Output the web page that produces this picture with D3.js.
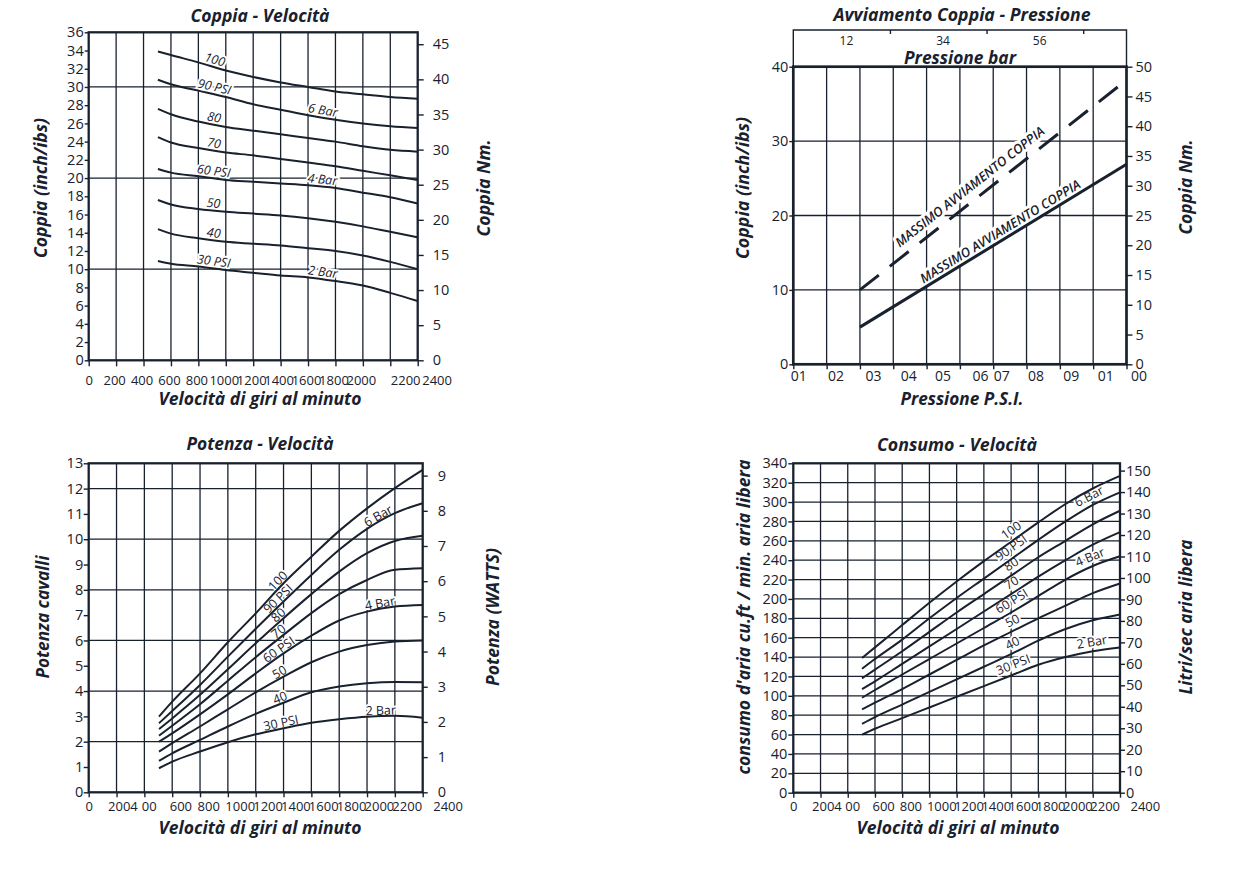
<!DOCTYPE html>
<html lang="it">
<head>
<meta charset="UTF-8">
<title>Coppia, Potenza, Consumo - Velocità</title>
<style>
  *{margin:0;padding:0;}
  body{background:#fff;}
  svg{font-family:'Open Sans',sans-serif;}
</style>
</head>
<body>
<div id="container"></div>
<script src="https://cdn.jsdelivr.net/npm/d3@7"></script>
<script>
var ink = '#19212e'

var giri = [505, 600, 800, 1000, 1200, 1400, 1600, 1800, 2000, 2200, 2400]
var rpmTicks = [0, 200, 400, 600, 800, 1000, 1200, 1400, 1600, 1800, 2000, 2200, 2400]
var rpmText = ['0', '200', '400', '600', '800', '1000', '1200', '1400', '1600', '1800', '2000', '2200', '2400']
var rpmTextLow = ['0', '2004', '00', '600', '800', '1000', '1200', '1400', '1600', '1800', '2000', '2200', '2400']
var psiNames = ['100', '90 PSI', '80', '70', '60 PSI', '50', '40', '30 PSI']
var barNames = ['6 Bar', '4 Bar', '2 Bar']
var barOnSeries = [1, 4, 7]

// Coppia - Velocità (inch/lbs)
var coppia100 = [33.9, 33.5, 32.7, 31.8, 31.1, 30.5, 30.0, 29.5, 29.2, 28.9, 28.7]
var coppia90 = [30.8, 30.3, 29.6, 28.9, 28.1, 27.5, 26.9, 26.4, 26.0, 25.7, 25.5]
var coppia80 = [27.6, 27.0, 26.2, 25.6, 25.2, 24.8, 24.4, 24.0, 23.5, 23.1, 22.9]
var coppia70 = [24.5, 23.9, 23.3, 22.8, 22.5, 22.1, 21.7, 21.3, 20.8, 20.3, 19.8]
var coppia60 = [21.0, 20.6, 20.2, 19.8, 19.6, 19.4, 19.2, 18.9, 18.4, 17.9, 17.2]
var coppia50 = [17.6, 17.1, 16.6, 16.3, 16.1, 15.9, 15.6, 15.2, 14.7, 14.1, 13.5]
var coppia40 = [14.4, 13.9, 13.4, 13.0, 12.8, 12.6, 12.3, 12.0, 11.5, 10.8, 10.0]
var coppia30 = [10.9, 10.6, 10.3, 9.9, 9.6, 9.3, 9.1, 8.7, 8.2, 7.4, 6.5]

// Potenza - Velocità (cavalli)
var potenza100 = [2.99, 3.58, 4.70, 5.93, 7.07, 8.26, 9.31, 10.33, 11.22, 12.02, 12.74]
var potenza90 = [2.73, 3.21, 4.24, 5.36, 6.46, 7.54, 8.59, 9.58, 10.41, 11.03, 11.42]
var potenza80 = [2.50, 2.92, 3.85, 4.86, 5.89, 6.88, 7.83, 8.72, 9.45, 9.93, 10.14]
var potenza70 = [2.24, 2.63, 3.48, 4.41, 5.34, 6.22, 7.08, 7.83, 8.39, 8.79, 8.85]
var potenza60 = [2.00, 2.33, 3.08, 3.87, 4.70, 5.49, 6.19, 6.79, 7.14, 7.34, 7.40]
var potenza50 = [1.61, 1.94, 2.60, 3.28, 3.95, 4.57, 5.14, 5.56, 5.82, 5.96, 6.00]
var potenza40 = [1.24, 1.54, 2.07, 2.60, 3.10, 3.54, 3.95, 4.18, 4.31, 4.36, 4.35]
var potenza30 = [0.95, 1.21, 1.61, 1.98, 2.29, 2.53, 2.75, 2.89, 2.99, 3.02, 2.95]

// Consumo - Velocità (cu.ft / min)
var consumo100 = [139, 150, 173, 196, 218, 239, 259, 279, 298, 314, 327]
var consumo90 = [128, 138, 158, 180, 201, 221, 241, 261, 280, 297, 310]
var consumo80 = [118, 127, 146, 166, 186, 205, 224, 243, 260, 277, 291]
var consumo70 = [107, 115, 133, 151, 169, 187, 205, 223, 240, 256, 269]
var consumo60 = [98, 106, 122, 138, 154, 170, 186, 203, 220, 234, 244]
var consumo50 = [86, 93, 107, 122, 137, 152, 166, 180, 193, 206, 216]
var consumo40 = [71, 78, 91, 104, 117, 130, 143, 157, 169, 178, 184]
var consumo30 = [60, 66, 77, 88, 99, 110, 121, 132, 140, 146, 150]

// Avviamento Coppia - Pressione
var psi = [20, 100]
var avviamento = [5, 26.9]
var avviamentoMax = [10, 38.2]
var psiTicks = [0, 10, 20, 30, 40, 50, 60, 70, 80, 90, 100]
var psiText = ['01', '02', '03', '04', '05', '06', '07', '08', '09', '01', '00']
var barTicks = [2, 4, 6]
var barText = ['12', '34', '56']
var barTextAt = [1.1, 3.1, 5.1]
var psiPerBar = 14.5

var svg = d3.select('#container').append('svg').attr('width', 1247).attr('height', 881)

// titoli in corsivo grassetto, larghezza forzata come nel disegno originale
function title(txt, x, y, size, len, rot) {
	svg.append('text').attr('transform', `translate(${x},${y}) rotate(${rot || 0})`)
		.attr('text-anchor', 'middle').attr('dominant-baseline', 'central')
		.attr('font-size', size).attr('font-weight', 700).attr('font-style', 'italic')
		.attr('textLength', len).attr('lengthAdjust', 'spacingAndGlyphs')
		.attr('fill', ink).text(txt)
}

function styleAxis(a, size) {
	a.attr('color', ink).attr('font-family', null).attr('font-size', size)
	a.select('.domain').remove()
	a.selectAll('.tick line').attr('stroke-width', 1.4)
	a.selectAll('.tick text').attr('fill', ink)
}

function halo(t) {
	t.attr('stroke', '#fff').attr('stroke-width', 4).attr('stroke-linejoin', 'round')
		.attr('paint-order', 'stroke').attr('fill', ink)
}

function rpmChart(o) {
	var x = d3.scaleLinear().domain([0, 2400]).range([o.left, o.right])
	var y = d3.scaleLinear().domain([0, o.yMax]).range([o.bottom, o.top])
	var y2 = d3.scaleLinear().domain([0, o.y2Max]).range([o.bottom, o.top])
	var g = svg.append('g')

	g.selectAll('.vgrid').data(rpmTicks.slice(1, -1)).enter().append('line').attr('class', 'vgrid')
		.attr('x1', d => x(d)).attr('x2', d => x(d)).attr('y1', o.top).attr('y2', o.bottom)
		.attr('stroke', ink).attr('stroke-width', 1.3)
	g.selectAll('.hgrid').data(o.grid).enter().append('line').attr('class', 'hgrid')
		.attr('x1', o.left).attr('x2', o.right).attr('y1', d => y(d)).attr('y2', d => y(d))
		.attr('stroke', ink).attr('stroke-width', 1.3)

	// etichette sulle curve
	function onCurve(values, r, txt, off) {
		var at = d3.scaleLinear().domain(giri).range(values)
		var ang = Math.atan2(y(at(r + 40)) - y(at(r - 40)), x(r + 40) - x(r - 40)) * 180 / Math.PI
		g.append('text').attr('transform', `translate(${x(r)},${y(at(r))}) rotate(${ang})`)
			.attr('y', -off).attr('text-anchor', 'middle').attr('font-size', 12.5)
			.attr('font-style', o.italic ? 'italic' : 'normal').text(txt).call(halo)
	}
	o.series.forEach((s, i) => onCurve(s, o.psiAt, psiNames[i], o.off))
	barOnSeries.forEach((s, i) => onCurve(o.series[s], o.barAt, barNames[i], o.off))

	var line = d3.line().x((d, i) => x(giri[i])).y(d => y(d)).curve(d3.curveMonotoneX)
	g.selectAll('.curve').data(o.series).enter().append('path').attr('class', 'curve')
		.attr('d', line).attr('fill', 'none').attr('stroke', ink).attr('stroke-width', 2)

	g.append('rect').attr('x', o.left).attr('y', o.top)
		.attr('width', o.right - o.left).attr('height', o.bottom - o.top)
		.attr('fill', 'none').attr('stroke', ink).attr('stroke-width', 2.3)

	var xa = g.append('g').attr('transform', `translate(0,${o.bottom})`)
		.call(d3.axisBottom(x).tickValues(rpmTicks).tickFormat((d, i) => o.xText[i])
			.tickSize(o.xTick).tickPadding(o.xPad))
	styleAxis(xa, 13)
	xa.selectAll('.tick text').attr('text-anchor', (d, i) => o.xLay(i)[0]).attr('dx', (d, i) => o.xLay(i)[1])

	var ya = g.append('g').attr('transform', `translate(${o.left},0)`)
		.call(d3.axisLeft(y).tickValues(o.yTicks).tickSize(o.yTick).tickPadding(o.yPad))
	styleAxis(ya, 14.5)
	var ra = g.append('g').attr('transform', `translate(${o.right},0)`)
		.call(d3.axisRight(y2).tickValues(o.y2Ticks).tickSize(o.y2Tick).tickPadding(o.y2Pad))
	styleAxis(ra, 14.5)
}

function layTop(i) {
	if (i == 0) return ['middle', 0]
	if (i >= 11) return ['start', i == 11 ? 0 : 4]
	return ['middle', -2]
}
function layLow(i) {
	if (i == 0) return ['middle', 0]
	if (i == 1) return ['start', -9]
	if (i == 12) return ['start', 10]
	return ['start', -3]
}

// Coppia - Velocità
rpmChart({
	left: 88.7, right: 417.7, top: 32.3, bottom: 360.3,
	yMax: 36, y2Max: 46.7, grid: [10, 20, 30],
	yTicks: [0, 2, 4, 6, 8, 10, 12, 14, 16, 18, 20, 22, 24, 26, 28, 30, 32, 34, 36],
	y2Ticks: [0, 5, 10, 15, 20, 25, 30, 35, 40, 45],
	series: [coppia100, coppia90, coppia80, coppia70, coppia60, coppia50, coppia40, coppia30],
	psiAt: 905, barAt: 1700, off: 3, italic: true,
	xText: rpmText, xLay: layTop, xTick: 6, xPad: 9,
	yTick: 4, yPad: 1, y2Tick: 6, y2Pad: 9
})
title('Coppia - Velocità', 260, 15, 17, 139)
title('Coppia (inch/ibs)', 40, 188, 17.5, 140, -90)
title('Coppia Nm.', 483, 188, 17.5, 97, -90)
title('Velocità di giri al minuto', 260, 398, 17.5, 203)

// Potenza - Velocità
rpmChart({
	left: 88.7, right: 422.7, top: 463.3, bottom: 792.3,
	yMax: 13, y2Max: 9.35, grid: [2, 4, 6, 8, 10, 12],
	yTicks: [0, 1, 2, 3, 4, 5, 6, 7, 8, 9, 10, 11, 12, 13],
	y2Ticks: [0, 1, 2, 3, 4, 5, 6, 7, 8, 9],
	series: [potenza100, potenza90, potenza80, potenza70, potenza60, potenza50, potenza40, potenza30],
	psiAt: 1390, barAt: 2100, off: 1.5, italic: false,
	xText: rpmTextLow, xLay: layLow, xTick: 5, xPad: 4.4,
	yTick: 5, yPad: 0.5, y2Tick: 5, y2Pad: 10
})
title('Potenza - Velocità', 260, 443, 17, 147)
title('Potenza cavalli', 42, 617, 17.5, 123, -90)
title('Potenza (WATTS)', 492, 617, 17.5, 138, -90)
title('Velocità di giri al minuto', 260, 827, 17.5, 203)

// Consumo - Velocità
rpmChart({
	left: 793.3, right: 1120, top: 463.3, bottom: 792.7,
	yMax: 340, y2Max: 153.4, grid: [20, 40, 60, 80, 100, 120, 140, 160, 180, 200, 220, 240, 260, 280, 300, 320],
	yTicks: [0, 20, 40, 60, 80, 100, 120, 140, 160, 180, 200, 220, 240, 260, 280, 300, 320, 340],
	y2Ticks: [0, 10, 20, 30, 40, 50, 60, 70, 80, 90, 100, 110, 120, 130, 140, 150],
	series: [consumo100, consumo90, consumo80, consumo70, consumo60, consumo50, consumo40, consumo30],
	psiAt: 1640, barAt: 2205, off: 5, italic: false,
	xText: rpmTextLow, xLay: layLow, xTick: 5, xPad: 4.4,
	yTick: 5, yPad: 1, y2Tick: 5, y2Pad: 1
})
title('Consumo - Velocità', 957, 444, 17, 160)
title("consumo d'aria cu.ft / min. aria libera", 743, 617, 17.5, 315, -90)
title('Litri/sec aria libera', 1185, 617, 17.5, 155, -90)
title('Velocità di giri al minuto', 958, 827, 17.5, 203)

// Avviamento Coppia - Pressione
var bx = d3.scaleLinear().domain([0, 100]).range([793.3, 1126.5])
var by = d3.scaleLinear().domain([0, 40]).range([364.3, 66.7])
var by2 = d3.scaleLinear().domain([0, 50]).range([364.3, 66.7])
var gb = svg.append('g')

gb.selectAll('.vgrid').data(psiTicks.slice(1, -1)).enter().append('line').attr('class', 'vgrid')
	.attr('x1', d => bx(d)).attr('x2', d => bx(d)).attr('y1', by(40)).attr('y2', by(0))
	.attr('stroke', ink).attr('stroke-width', 1.3)
gb.selectAll('.hgrid').data([10, 20, 30]).enter().append('line').attr('class', 'hgrid')
	.attr('x1', bx(0)).attr('x2', bx(100)).attr('y1', d => by(d)).attr('y2', d => by(d))
	.attr('stroke', ink).attr('stroke-width', 1.3)

function onLine(values, p, off) {
	var at = d3.scaleLinear().domain(psi).range(values)
	var ang = Math.atan2(by(at(100)) - by(at(20)), bx(100) - bx(20)) * 180 / Math.PI
	gb.append('text').attr('transform', `translate(${bx(p)},${by(at(p))}) rotate(${ang})`)
		.attr('y', -off).attr('text-anchor', 'middle').attr('font-size', 13)
		.attr('font-weight', 600).attr('font-style', 'italic').text('MASSIMO AVVIAMENTO COPPIA')
		.call(halo).attr('stroke-width', 6)
}
onLine(avviamentoMax, 55.4, 8.5)
onLine(avviamento, 63.4, 4)

var bline = d3.line().x((d, i) => bx(psi[i])).y(d => by(d))
gb.append('path').attr('d', bline(avviamento)).attr('fill', 'none').attr('stroke', ink).attr('stroke-width', 3)
gb.append('path').attr('d', bline(avviamentoMax)).attr('fill', 'none').attr('stroke', ink)
	.attr('stroke-width', 3).attr('stroke-dasharray', '24,14')

gb.append('rect').attr('x', bx(0)).attr('y', by(40)).attr('width', bx(100) - bx(0)).attr('height', by(0) - by(40))
	.attr('fill', 'none').attr('stroke', ink).attr('stroke-width', 2.7)

// scala superiore in bar
var bbar = d3.scaleLinear().domain([0, 100 / psiPerBar]).range([bx(0), bx(100)])
gb.append('path').attr('d', `M${bx(0)},${by(40)}V30H${bx(100)}V${by(40)}`)
	.attr('fill', 'none').attr('stroke', ink).attr('stroke-width', 1.4)
var ta = gb.append('g').attr('transform', 'translate(0,30)')
	.call(d3.axisBottom(bbar).tickValues(barTicks).tickFormat('').tickSize(4))
styleAxis(ta, 12)
gb.selectAll('.barlab').data(barText).enter().append('text').attr('class', 'barlab')
	.attr('x', (d, i) => bbar(barTextAt[i])).attr('y', 45).attr('text-anchor', 'middle')
	.attr('font-size', 12).attr('fill', ink).text(d => d)

var bShift = [-3, 1, 5, 7, 8, 12, 0, 1, 3, 4, 4]
var bxa = gb.append('g').attr('transform', `translate(0,${by(0)})`)
	.call(d3.axisBottom(bx).tickValues(psiTicks).tickFormat((d, i) => psiText[i]).tickSize(5).tickPadding(1.5))
styleAxis(bxa, 14)
bxa.selectAll('.tick text').attr('text-anchor', 'start').attr('dx', (d, i) => bShift[i])
var bya = gb.append('g').attr('transform', `translate(${bx(0)},0)`)
	.call(d3.axisLeft(by).tickValues([0, 10, 20, 30, 40]).tickSize(4).tickPadding(1))
styleAxis(bya, 14.5)
var bra = gb.append('g').attr('transform', `translate(${bx(100)},0)`)
	.call(d3.axisRight(by2).tickValues([0, 5, 10, 15, 20, 25, 30, 35, 40, 45, 50]).tickSize(6).tickPadding(3))
styleAxis(bra, 14.5)

title('Avviamento Coppia - Pressione', 962, 14, 17, 257)
title('Pressione bar', 960, 57, 17.5, 112)
title('Coppia (inch/ibs)', 742, 188, 17.5, 142, -90)
title('Coppia Nm.', 1185, 187, 17.5, 95, -90)
title('Pressione P.S.I.', 962, 398, 17.5, 123)
</script>
</body>
</html>
